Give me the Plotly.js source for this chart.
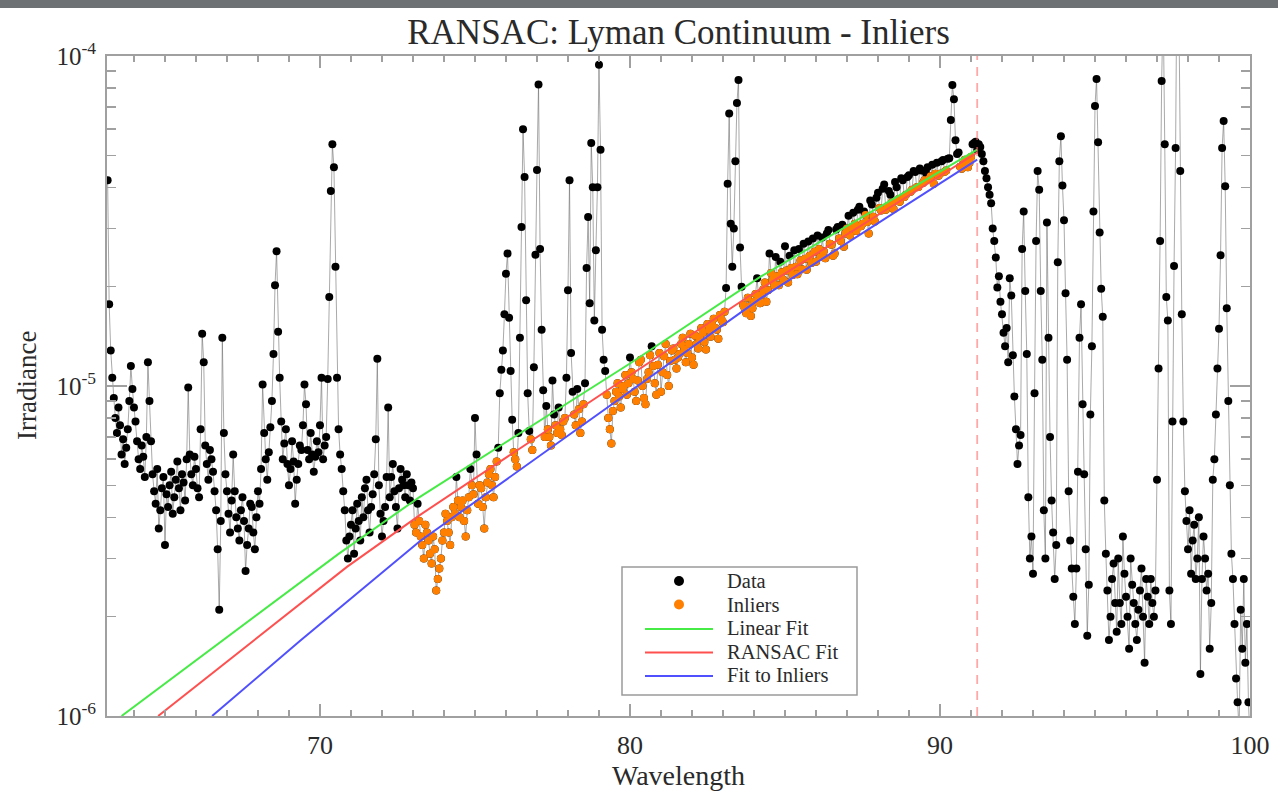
<!DOCTYPE html>
<html><head><meta charset="utf-8">
<script src="https://cdn.plot.ly/plotly-3.0.1.min.js"></script>
<style>
html,body{margin:0;padding:0;background:#fff;overflow:hidden}
#bar{position:absolute;left:0;top:0;width:1278px;height:8px;background:#6e7174;z-index:10}
#chart{position:absolute;left:0;top:0;width:1278px;height:806px}
</style></head>
<body><div id="chart"></div><div id="bar"></div>
<script>
// Spectrum: [wavelength (nm), irradiance (1e-6 units)]
const specShort = [
[63.15,42],[63.2,17.7],[63.25,12.8],[63.3,10.6],[63.35,9.2],[63.4,8.0],[63.45,7.2],[63.5,8.6],[63.55,7.6],[63.6,6.2],[63.65,6.9],[63.7,5.8],[63.75,6.5],[63.8,7.4],[63.85,9.0],[63.9,11.5],[63.95,9.8],
[64.0,8.6],[64.05,7.8],[64.1,6.8],[64.15,6.0],[64.2,5.6],[64.25,6.6],[64.3,6.1],[64.35,5.3],[64.4,7.0],[64.45,11.8],[64.5,9.0],[64.55,6.8],[64.6,5.4],[64.65,4.8],[64.7,4.4],[64.75,5.6],[64.8,3.7],[64.85,4.2],[64.9,4.9],[64.95,5.3],
[65.0,3.3],[65.05,4.7],[65.1,4.3],[65.15,5.0],[65.2,5.5],[65.25,4.1],[65.3,4.6],[65.35,5.2],[65.4,5.9],[65.45,4.9],[65.5,4.2],[65.55,5.4],[65.6,5.1],[65.65,4.5],[65.7,6.0],[65.75,9.9],[65.8,6.2],[65.85,5.4],[65.9,5.0],[65.95,6.1],
[66.0,5.6],[66.05,4.9],[66.1,4.6],[66.15,7.4],[66.2,14.4],[66.25,11.8],[66.3,6.6],[66.35,5.8],[66.4,5.2],[66.45,6.4],[66.5,6.0],[66.55,5.5],[66.6,4.8],[66.65,4.2],[66.7,3.2],[66.75,2.1],[66.8,3.9],[66.85,14.0],[66.9,7.2],[66.95,5.4],
[67.0,4.8],[67.05,4.1],[67.1,3.6],[67.15,4.5],[67.2,6.2],[67.25,4.8],[67.3,4.0],[67.35,3.7],[67.4,3.4],[67.45,4.2],[67.5,4.6],[67.55,3.9],[67.6,2.75],[67.65,3.3],[67.7,3.7],[67.75,4.4],[67.8,4.3],[67.85,3.6],[67.9,3.2],[67.95,4.0],
[68.0,4.8],[68.05,4.4],[68.1,5.6],[68.15,10.1],[68.2,7.2],[68.25,6.0],[68.3,5.2],[68.35,6.3],[68.4,7.5],[68.45,9.0],[68.5,12.5],[68.55,20.2],[68.6,25.6],[68.65,14.6],[68.7,10.6],[68.75,7.8],[68.8,6.0],[68.85,6.7],[68.9,7.4],[68.95,5.8],
[69.0,5.0],[69.05,5.6],[69.1,6.8],[69.15,5.9],[69.2,4.4],[69.25,5.2],[69.3,5.8],[69.35,6.6],[69.4,6.4],[69.45,7.6],[69.5,10.1],[69.55,8.8],[69.6,6.4],[69.65,6.0],[69.7,7.2],[69.75,6.2],[69.8,5.5],[69.85,6.1],[69.9,6.8],[69.95,6.3],
[70.0,7.6],[70.05,10.6],[70.1,6.0],[70.15,6.6],[70.2,7.0],[70.25,10.5],[70.3,18.6],[70.35,39],[70.4,54],[70.45,46],[70.5,23],[70.55,10.6],[70.6,7.4],[70.65,6.2],[70.7,5.6],[70.75,4.8],[70.8,4.2],[70.85,3.4],[70.9,3.0],[70.95,3.5],
[71.0,3.8],[71.05,4.2],[71.1,3.1],[71.15,3.7],[71.2,4.4],[71.25,3.9],[71.3,3.4],[71.35,4.6],[71.4,4.0],[71.45,4.9],[71.5,5.2],[71.55,4.2],[71.6,3.6],[71.65,4.3],[71.7,4.7],[71.75,5.4],[71.8,6.9],[71.85,12.1],[71.9,5.0],[71.95,4.1],
[72.0,3.5],[72.05,3.9],[72.1,4.3],[72.15,5.3],[72.2,8.6],[72.25,4.6],[72.3,5.3],[72.35,5.8],[72.4,4.8],[72.45,4.3],[72.5,3.7],[72.55,4.9],[72.6,5.6],[72.65,5.2],[72.7,5.0],[72.75,4.6],[72.8,5.4],[72.85,5.0],[72.9,4.5],[72.95,5.1],[73.0,4.9]
];
const specContinuum = [
[73.05,3.8],[73.1,3.6],[73.15,4.4],[73.2,3.9],[73.25,3.5],[73.3,3.3],[73.35,3.0],[73.4,3.8],[73.45,3.6],[73.5,3.4],[73.55,3.1],[73.6,2.9],[73.65,3.5],[73.7,3.2],[73.75,2.4],[73.8,2.6],[73.85,2.8],[73.9,3.0],[73.95,3.4],
[74.0,3.6],[74.05,4.1],[74.1,3.9],[74.15,3.6],[74.2,3.3],[74.25,4.0],[74.3,4.3],[74.35,4.1],[74.4,5.3],[74.45,4.5],[74.5,4.0],[74.55,4.3],[74.6,4.5],[74.65,3.9],[74.7,3.5],[74.75,4.2],[74.8,4.6],[74.85,5.6],[74.9,5.0],[74.95,4.7],
[75.0,8.0],[75.05,6.2],[75.1,4.4],[75.15,5.0],[75.2,4.9],[75.25,4.3],[75.3,3.7],[75.35,4.6],[75.4,5.1],[75.45,5.4],[75.5,5.6],[75.55,5.0],[75.6,4.6],[75.65,5.3],[75.7,5.9],[75.75,6.5],[75.8,9.5],[75.85,11.2],[75.9,12.8],[75.95,16.5],
[76.0,21.9],[76.05,25.2],[76.1,16.1],[76.15,11.1],[76.2,7.9],[76.25,6.3],[76.3,6.0],[76.35,5.7],[76.4,7.2],[76.45,14.0],[76.5,30.3],[76.55,60],[76.6,43],[76.65,18.2],[76.7,9.5],[76.75,7.3],[76.8,6.9],[76.85,6.4],[76.9,11.4],[76.95,25.0],
[77.0,45.1],[77.05,82],[77.1,26],[77.15,14.8],[77.2,9.7],[77.25,7.0],[77.3,8.7],[77.35,7.4],[77.4,7.0],[77.45,6.6],[77.5,10.4],[77.55,8.2],[77.6,7.6],[77.65,7.2],[77.7,8.6],[77.75,7.4],[77.8,7.1],[77.85,7.8],[77.9,8.0],[77.95,10.6],
[78.0,19.5],[78.05,42],[78.1,12.6],[78.15,9.6],[78.2,8.2],[78.25,7.6],[78.3,9.8],[78.35,8.5],[78.4,7.2],[78.45,7.8],[78.5,8.8],[78.55,10.2],[78.6,22.8],[78.65,32.5],[78.7,17.8],[78.75,54.5],[78.8,40],[78.85,15.8],[78.9,25.8],[78.95,40],
[79.0,94],[79.05,52],[79.1,14.8],[79.15,12.0],[79.2,11.1],[79.25,9.4],[79.3,8.0],[79.35,7.4],[79.4,6.7],[79.45,8.4],[79.5,9.0],[79.55,9.6],[79.6,10.2],[79.65,9.3],[79.7,8.6],[79.75,9.8],[79.8,10.0],[79.85,10.8],[79.9,9.4],[79.95,10.2],
[80.0,12.2],[80.05,11.0],[80.1,10.5],[80.15,9.6],[80.2,9.0],[80.25,10.4],[80.3,11.8],[80.35,12.0],[80.4,10.0],[80.45,9.2],[80.5,8.8],[80.55,10.5],[80.6,11.0],[80.65,12.4],[80.7,13.2],[80.75,11.5],[80.8,10.2],[80.85,9.4],[80.9,11.6],[80.95,12.6],
[81.0,9.6],[81.05,11.0],[81.1,12.3],[81.15,13.4],[81.2,10.8],[81.25,10.0],[81.3,11.9],[81.35,12.8],[81.4,13.0],[81.45,12.0],[81.5,11.3],[81.55,12.2],[81.6,12.5],[81.65,13.4],[81.7,14.0],[81.75,12.9],[81.8,11.8],[81.85,12.6],[81.9,13.4],[81.95,14.4],
[82.0,12.2],[82.05,11.6],[82.1,14.2],[82.15,13.4],[82.2,13.0],[82.25,14.0],[82.3,15.0],[82.35,14.5],[82.4,13.6],[82.45,12.9],[82.5,15.4],[82.55,14.8],[82.6,14.1],[82.65,15.3],[82.7,16.0],[82.75,15.0],[82.8,14.8],[82.85,13.9],[82.9,16.4],[82.95,15.9],
[83.0,15.6],[83.05,16.8],[83.1,19.8],[83.15,41],[83.2,67],[83.25,31],[83.3,23],[83.35,30],[83.4,48],[83.45,72],[83.5,84.6],[83.55,26.3],[83.6,20.0],[83.65,17.6],[83.7,17.2],[83.75,16.6],[83.8,18.5],[83.85,17.4],[83.9,16.3],[83.95,17.2],
[84.0,18.0],[84.05,19.0],[84.1,21.2],[84.15,18.6],[84.2,17.8],[84.25,18.9],[84.3,19.6],[84.35,20.6],[84.4,18.0],[84.45,19.5],[84.5,25.2],[84.55,22.0],[84.6,21.0],[84.65,20.2],[84.7,24.6],[84.75,21.5],[84.8,20.2],[84.85,23.8],[84.9,22.1],[84.95,21.0],
[85.0,26.5],[85.05,22.4],[85.1,20.6],[85.15,24.8],[85.2,22.8],[85.25,21.7],[85.3,25.8],[85.35,23.0],[85.4,21.8],[85.45,26.0],[85.5,24.0],[85.55,22.6],[85.6,27.0],[85.65,24.3],[85.7,22.5],[85.75,27.4],[85.8,24.8],[85.85,23.6],[85.9,28.0],[85.95,25.5],
[86.0,23.8],[86.05,28.6],[86.1,26.0],[86.15,24.6],[86.2,28.2],[86.25,25.6],[86.3,24.4],[86.35,29.0],[86.4,29.7],[86.45,27.0],[86.5,26.8],[86.55,24.8],[86.6,25.2],[86.65,29.8],[86.7,30.3],[86.75,28.0],[86.8,27.5],[86.85,30.8],[86.9,26.4],[86.95,29.0],
[87.0,30.0],[87.05,32.8],[87.1,28.6],[87.15,30.2],[87.2,33.5],[87.25,31.0],[87.3,29.5],[87.35,34.2],[87.4,34.9],[87.45,30.5],[87.5,31.0],[87.55,33.8],[87.6,33.0],[87.65,31.4],[87.7,29.0],[87.75,36.5],[87.8,35.5],[87.85,32.6],[87.9,31.5],[87.95,37.2],
[88.0,38.5],[88.05,34.6],[88.1,34.0],[88.15,39.6],[88.2,40.8],[88.25,34.2],[88.3,35.0],[88.35,39.0],[88.4,38.0],[88.45,36.0],[88.5,34.4],[88.55,41.5],[88.6,40.0],[88.65,36.8],[88.7,36.2],[88.75,42.6],[88.8,42.0],[88.85,37.4],[88.9,38.0],[88.95,43.0],
[89.0,43.5],[89.05,38.8],[89.1,39.3],[89.15,44.8],[89.2,44.5],[89.25,40.0],[89.3,40.1],[89.35,45.6],[89.4,45.0],[89.45,41.2],[89.5,42.0],[89.55,44.2],[89.6,46.0],[89.65,42.4],[89.7,43.2],[89.75,46.8],[89.8,41.0],[89.85,44.0],[89.9,47.5],[89.95,43.4],
[90.0,44.0],[90.05,48.0],[90.1,48.4],[90.15,44.6],[90.2,45.0],[90.25,48.8],[90.3,49.0],[90.35,64],[90.4,81.7],[90.45,74],[90.5,55.6],[90.55,50.5],[90.6,51],[90.65,46.2],[90.7,45.5],[90.75,47.0],[90.8,48.5],[90.85,46.5],[90.9,46.0],[90.95,47.5],
[91.0,49.4],[91.05,54.0],[91.1,54.5],[91.15,55.0],[91.2,52.0]
];
const specLong = [
[91.25,54.0],[91.3,53.0],[91.35,50.5],[91.4,48.0],[91.45,44.8],[91.5,42.6],[91.55,40.0],[91.6,38.0],[91.65,35.8],[91.7,30.0],[91.75,27.5],[91.8,24.5],[91.85,19.9],[91.9,21.5],[91.95,18.0],
[92.0,16.5],[92.05,14.5],[92.1,13.2],[92.15,15.0],[92.2,11.8],[92.25,21.2],[92.3,18.8],[92.35,12.4],[92.4,9.3],[92.45,7.4],[92.5,5.8],[92.55,6.6],[92.6,7.1],[92.65,26.0],[92.7,33.8],[92.75,19.4],[92.8,12.5],[92.85,4.6],[92.9,3.0],[92.95,3.5],
[93.0,2.7],[93.05,9.5],[93.1,27.5],[93.15,44.8],[93.2,39.3],[93.25,19.4],[93.3,12.0],[93.35,4.2],[93.4,3.0],[93.45,31.3],[93.5,14.0],[93.55,7.0],[93.6,4.5],[93.65,3.6],[93.7,2.6],[93.75,3.3],
[93.8,23.7],[93.85,48.0],[93.9,57.1],[93.95,40.5],[94.0,31.8],[94.05,19.1],[94.1,12.0],[94.15,4.8],[94.2,3.4],[94.25,2.8],[94.3,2.3],[94.35,1.9],[94.4,2.8],[94.45,5.5],
[94.5,14.0],[94.55,17.7],[94.6,8.8],[94.65,5.4],[94.7,3.2],[94.75,1.75],[94.8,2.5],[94.85,8.2],[94.9,13.2],[94.95,33.8],
[95.0,70.5],[95.05,85.2],[95.1,54.8],[95.15,29.2],[95.2,19.7],[95.25,16.2],[95.3,4.5],[95.35,3.1],[95.4,2.4],[95.45,1.7],[95.5,2.0],[95.55,2.6],[95.6,2.9],[95.65,2.2],
[95.7,1.8],[95.75,3.0],[95.8,2.2],[95.85,1.9],[95.9,3.5],[95.95,2.7],[96.0,2.3],[96.05,2.0],[96.1,1.6],[96.15,3.0],[96.2,2.5],[96.25,2.2],[96.3,1.9],[96.35,1.7],
[96.4,2.1],[96.45,2.4],[96.5,2.8],[96.55,2.0],[96.6,1.45],[96.65,2.6],[96.7,2.3],[96.75,1.9],[96.8,2.6],[96.85,2.2],[96.9,2.0],[96.95,2.4],
[97.0,5.2],[97.05,11.3],[97.1,27.5],[97.15,84.0],[97.2,140],[97.25,54.0],[97.3,18.6],[97.35,15.8],[97.4,2.4],[97.45,1.9],[97.5,7.8],[97.55,23.1],[97.6,52.6],
[97.65,220],[97.7,160],[97.75,44.8],[97.8,16.5],[97.85,7.8],[97.9,4.8],[97.95,3.9],[98.0,3.2],[98.05,4.2],[98.1,2.7],[98.15,3.4],[98.2,3.8],[98.25,2.6],[98.3,3.0],[98.35,4.0],
[98.4,1.34],[98.45,2.6],[98.5,3.5],[98.55,3.0],[98.6,2.4],[98.65,2.7],[98.7,1.6],[98.75,2.2],[98.8,5.2],[98.85,6.0],[98.9,8.2],[98.95,11.3],
[99.0,14.9],[99.05,24.9],[99.1,52.6],[99.15,63.5],[99.2,40.3],[99.25,17.2],[99.3,9.0],[99.35,5.0],[99.4,3.1],[99.45,2.6],[99.5,1.9],[99.55,1.3],
[99.6,1.1],[99.65,0.9],[99.7,2.1],[99.75,1.6],[99.8,2.6],[99.85,1.45],[99.9,1.9],[99.95,1.1],[100.0,0.85]
];

// Fit curves (wavelength nm, irradiance 1e-6 units)
const linearFitWl  = [63.6, 70.6, 73.2, 80.0, 84.2, 91.2];
const linearFitVal = [1.0, 3.1, 4.6, 11.7, 21.4, 52];
const ransacFitWl  = [64.78, 70.87, 73.23, 83.87, 91.2];
const ransacFitVal = [1.0, 2.83, 4.07, 18.8, 51];
const inlierFitWl  = [66.52, 69.36, 73.23, 84.2, 91.2];
const inlierFitVal = [1.0, 1.69, 3.39, 18.4, 48.5];

const lymanLimit = 91.2;
const inlierWindow = [73.05, 91.15];
const inlierTolerance = 0.03; // dex above the RANSAC fit

const legendLabels = ['Data', 'Inliers', 'Linear Fit', 'RANSAC Fit', 'Fit to Inliers'];

const UNIT = 1e-6;
const spectrum = specShort.concat(specContinuum, specLong);
const wl = spectrum.map(p => p[0]);
const irr = spectrum.map(p => p[1] * UNIT);

function logInterp(xs, ys, x) {
  let i = 0;
  while (i < xs.length - 2 && x > xs[i + 1]) i++;
  const l0 = Math.log10(ys[i]), l1 = Math.log10(ys[i + 1]);
  return Math.pow(10, l0 + (l1 - l0) * (x - xs[i]) / (xs[i + 1] - xs[i]));
}
const inX = [], inY = [];
spectrum.forEach(p => {
  if (p[0] >= inlierWindow[0] && p[0] <= inlierWindow[1]) {
    const r = Math.log10(p[1] / logInterp(ransacFitWl, ransacFitVal, p[0]));
    if (r < inlierTolerance) { inX.push(p[0]); inY.push(p[1] * UNIT); }
  }
});

const serif = 'Liberation Serif, Times New Roman, serif';
const txt = '#2a2a2a';
const axisCol = '#a0a0a0';
const cData = '#000', cIn = 'rgb(255,127,0)';
const cLin = 'rgb(70,235,70)', cRan = 'rgb(255,80,80)', cFit = 'rgb(80,80,255)';

const traces = [
  {x: wl, y: irr, mode: 'lines', line: {color: 'rgba(100,100,100,0.7)', width: 0.8}, hoverinfo: 'skip'},
  {x: wl, y: irr, mode: 'markers', name: legendLabels[0], marker: {color: cData, size: 8}},
  {x: inX, y: inY, mode: 'markers', name: legendLabels[1], marker: {color: cIn, size: 8}},
  {x: linearFitWl, y: linearFitVal.map(v => v * UNIT), mode: 'lines', name: legendLabels[2], line: {color: cLin, width: 2}},
  {x: ransacFitWl, y: ransacFitVal.map(v => v * UNIT), mode: 'lines', name: legendLabels[3], line: {color: cRan, width: 2}},
  {x: inlierFitWl, y: inlierFitVal.map(v => v * UNIT), mode: 'lines', name: legendLabels[4], line: {color: cFit, width: 2}}
];

const yMinor = [];
[1e-6, 1e-5].forEach(d => { for (let k = 2; k <= 9; k++) yMinor.push(k * d); });

// Legend box drawn in paper space (pixel positions of the plot area: 107..1250 x 56..716)
const PL = 107, PW = 1143, PB = 716, PH = 660;
const px = v => (v - PL) / PW, py = v => (PB - v) / PH;
const rowY = [581, 604.5, 628, 651.5, 675];
const legendColors = [cData, cIn, cLin, cRan, cFit];
const shapes = [
  {type: 'line', xref: 'x', yref: 'paper', x0: lymanLimit, x1: lymanLimit, y0: 0, y1: 1,
   line: {color: 'rgba(255,110,110,0.6)', width: 1.8, dash: '9px,7px'}},
  {type: 'rect', xref: 'paper', yref: 'paper', x0: px(622), x1: px(857), y0: py(695), y1: py(567),
   line: {color: '#9a9a9a', width: 1.5}, fillcolor: '#fff', layer: 'above'}
];
const annotations = [];
legendLabels.forEach((lab, i) => {
  if (i < 2) {
    shapes.push({type: 'circle', xref: 'paper', yref: 'paper', xsizemode: 'pixel', ysizemode: 'pixel',
      xanchor: px(679), yanchor: py(rowY[i]), x0: -5, x1: 5, y0: -5, y1: 5,
      fillcolor: legendColors[i], line: {width: 0}, layer: 'above'});
  } else {
    shapes.push({type: 'line', xref: 'paper', yref: 'paper', x0: px(645), x1: px(713), y0: py(rowY[i] + 1), y1: py(rowY[i] + 1),
      line: {color: legendColors[i], width: 2}, layer: 'above'});
  }
  annotations.push({text: lab, xref: 'paper', yref: 'paper', x: px(726), y: py(rowY[i]), xanchor: 'left', yanchor: 'middle',
    showarrow: false, borderpad: 0, font: {family: serif, size: 20.5, color: txt}});
});
// y-axis title placed as rotated text at the reference position
annotations.push({text: 'Irradiance', xref: 'paper', yref: 'paper', x: px(27), y: 0.5, xanchor: 'center', yanchor: 'middle',
  textangle: -90, showarrow: false, font: {family: serif, size: 27, color: txt}});

const layout = {
  width: 1278, height: 806,
  paper_bgcolor: '#fff', plot_bgcolor: '#fff',
  margin: {l: 107, r: 28, t: 56, b: 90},
  font: {family: serif, color: txt},
  showlegend: false,
  title: {text: 'RANSAC: Lyman Continuum - Inliers', font: {family: serif, size: 35, color: txt},
          x: 0.5, xref: 'paper', xanchor: 'center', y: 1 - 32/806, yref: 'container', yanchor: 'middle'},
  xaxis: {
    range: [63.13, 100], showgrid: false, zeroline: false,
    showline: true, linecolor: axisCol, linewidth: 2, mirror: 'ticks',
    ticks: 'inside', ticklen: 12, tickwidth: 1.5, tickcolor: axisCol,
    tickvals: [70, 80, 90, 100], ticktext: ['70', '80', '90', '100'],
    tickfont: {family: serif, size: 26, color: txt}, ticklabelstandoff: 5,
    minor: {tickvals: [64,65,66,67,68,69,71,72,73,74,75,76,77,78,79,81,82,83,84,85,86,87,88,89,91,92,93,94,95,96,97,98,99], ticks: 'inside', ticklen: 6, tickwidth: 1.5, tickcolor: axisCol},
    title: {text: 'Wavelength', font: {family: serif, size: 28, color: txt}, standoff: 0}
  },
  yaxis: {
    type: 'log', range: [-6, -4], showgrid: false, zeroline: false,
    showline: true, linecolor: axisCol, linewidth: 2, mirror: 'ticks',
    ticks: 'inside', ticklen: 20, tickwidth: 1.5, tickcolor: axisCol,
    tickvals: [1e-6, 1e-5, 1e-4], ticktext: ['10<sup>-6</sup>', '10<sup>-5</sup>', '10<sup>-4</sup>'],
    tickfont: {family: serif, size: 25, color: txt}, ticklabelstandoff: 4,
    minor: {tickvals: yMinor, ticks: 'inside', ticklen: 9, tickwidth: 1.5, tickcolor: axisCol}
  },
  shapes: shapes,
  annotations: annotations
};

Plotly.newPlot('chart', traces, layout, {displayModeBar: false, staticPlot: true});
</script>
</body></html>
